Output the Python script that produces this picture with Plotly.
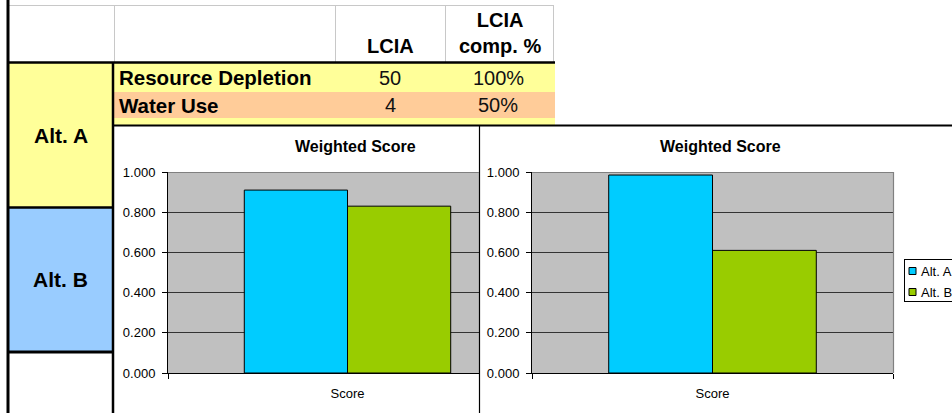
import plotly.graph_objects as go

W, H = 952, 413

# ---- chart data ----
alternatives = ["Alt. A", "Alt. B"]
category = ["Score"]
weighted_score_left = [0.91, 0.83]
weighted_score_right = [0.985, 0.61]
bar_colors = ["#00CCFF", "#99CC00"]
y_ticks = [0.0, 0.2, 0.4, 0.6, 0.8, 1.0]

# ---- table data ----
header_labels = ["LCIA", "LCIA<br>comp. %"]
impact_categories = ["Resource Depletion", "Water Use"]
lcia_values = [50, 4]
lcia_comp_pct = [100, 50]
row_colors = ["#FFFF99", "#FFCC99"]
alt_colors = ["#FFFF99", "#99CCFF"]

FONT = "Liberation Sans, Arial, sans-serif"


def px(x):
    return x / W


def py(y):
    return 1 - y / H


shapes = []


def rect(x0, y0, x1, y1, fill, layer="below"):
    shapes.append(dict(type="rect", xref="paper", yref="paper",
                       x0=px(x0), x1=px(x1), y0=py(y1), y1=py(y0),
                       fillcolor=fill, line=dict(width=0), layer=layer))


def line(x0, y0, x1, y1, color, width=1, layer="above"):
    shapes.append(dict(type="line", xref="paper", yref="paper",
                       x0=px(x0), x1=px(x1), y0=py(y0), y1=py(y1),
                       line=dict(color=color, width=width), layer=layer))


# spreadsheet cells
row_top = [63, 92]
row_bot = [92, 118]
for i, c in enumerate(row_colors):
    rect(114, row_top[i], 555, row_bot[i], c)
rect(114, 118, 555, 125, row_colors[0])
rect(9, 63, 113, 207, alt_colors[0])
rect(9, 208, 113, 352, alt_colors[1])

# header grid (light gray)
line(9, 5.5, 553, 5.5, "#C8C8C8")
for gx in (114.5, 335.5, 445.5, 553.5):
    line(gx, 5, gx, 62, "#C8C8C8")

# heavy black borders
line(8, 0, 8, 413, "black", 3)
line(8, 62.5, 555, 62.5, "black", 2.5)
line(113, 62, 113, 413, "black", 2.5)
line(8, 207.5, 113, 207.5, "black", 2.5)
line(8, 352, 113, 352, "black", 3)

# chart frames
line(113, 125.5, 952, 125.5, "black", 2)
line(479.5, 125, 479.5, 413, "black", 1.2)

# plot-area borders (gray)
line(168, 172.5, 479, 172.5, "#808080", 1.2)
line(532, 172.5, 893, 172.5, "#808080", 1.2)
line(893.5, 172, 893.5, 373, "#808080", 1.2)

annotations = []


def text(x, y, s, size, bold=False, xanchor="center", yanchor="middle", color="black", family=FONT):
    annotations.append(dict(xref="paper", yref="paper", x=px(x), y=py(y), text=s,
                            showarrow=False, xanchor=xanchor, yanchor=yanchor,
                            font=dict(family=family, size=size, color=color,
                                      weight=700 if bold else 400)))


# table header
text(390, 46, header_labels[0], 20, bold=True)
text(500, 33, header_labels[1], 20, bold=True)

# table rows
row_mid = [78, 105]
for i, name in enumerate(impact_categories):
    text(117, row_mid[i], name, 20.5, bold=True, xanchor="left")
    text(390, row_mid[i], str(lcia_values[i]), 20, color="#111111")
    text(498, row_mid[i], f"{lcia_comp_pct[i]}%", 20, color="#111111")

# alternative labels
text(61, 135, alternatives[0], 21, bold=True)
text(61, 279, alternatives[1], 21, bold=True)

# chart titles
text(355, 147, "Weighted Score", 16, bold=True)
text(720, 147, "Weighted Score", 16, bold=True)

# legend of right chart
rect(904, 259, 960, 302, "white", layer="above")
line(904.5, 259, 904.5, 302, "black", 1)
line(904, 259.5, 960, 259.5, "black", 1)
line(904, 301.5, 960, 301.5, "black", 1)
legend_y = [271, 292]
for i, name in enumerate(alternatives):
    shapes.append(dict(type="rect", xref="paper", yref="paper",
                       x0=px(909), x1=px(916), y0=py(legend_y[i] + 3.5), y1=py(legend_y[i] - 3.5),
                       fillcolor=bar_colors[i], line=dict(color="black", width=1), layer="above"))
    text(919, legend_y[i], name, 13, xanchor="left")

fig = go.Figure()

for i, name in enumerate(alternatives):
    fig.add_trace(go.Bar(x=category, y=[weighted_score_left[i]], name=name,
                         marker=dict(color=bar_colors[i], line=dict(color="black", width=1)),
                         xaxis="x", yaxis="y", showlegend=False, hoverinfo="skip"))
    fig.add_trace(go.Bar(x=category, y=[weighted_score_right[i]], name=name,
                         marker=dict(color=bar_colors[i], line=dict(color="black", width=1)),
                         xaxis="x2", yaxis="y2", showlegend=False, hoverinfo="skip"))

tickfont = dict(family=FONT, size=13, color="black")
yaxis_style = dict(range=[0, 1], tickvals=y_ticks, tickformat=".3f", showgrid=True,
                   gridcolor="#333333", gridwidth=1, showline=True, linecolor="black",
                   linewidth=1, ticks="outside", ticklen=5, tickcolor="black",
                   tickfont=tickfont, zeroline=False, fixedrange=True, ticklabelstandoff=4)
xaxis_style = dict(type="category", showgrid=False, showline=True, linecolor="black",
                   linewidth=1, ticks="outside", tickson="boundaries", ticklen=5,
                   tickcolor="black", tickfont=tickfont, zeroline=False, fixedrange=True,
                   ticklabelstandoff=8)

# left plot area spans 168..527 px but is covered from 479 px on by the right chart
full_left = 527 - 168
left_range = [-0.5, -0.5 + (479 - 168) / full_left]

y_dom = [py(373), py(172)]
fig.update_layout(
    width=W, height=H,
    margin=dict(l=0, r=0, t=0, b=0, pad=0, autoexpand=False),
    paper_bgcolor="white", plot_bgcolor="#C0C0C0",
    barmode="group", bargap=0.425, bargroupgap=0,
    showlegend=False,
    xaxis=dict(domain=[px(168), px(479)], range=left_range, anchor="y", **xaxis_style),
    yaxis=dict(domain=y_dom, anchor="x", **yaxis_style),
    xaxis2=dict(domain=[px(532), px(893)], range=[-0.5, 0.5], anchor="y2", **xaxis_style),
    yaxis2=dict(domain=y_dom, anchor="x2", **yaxis_style),
    shapes=shapes, annotations=annotations,
)

fig.write_html("out.html")
